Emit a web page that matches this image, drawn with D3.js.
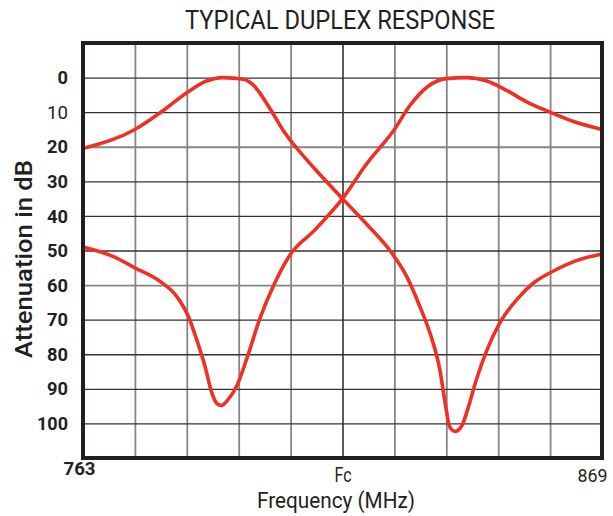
<!DOCTYPE html>
<html>
<head>
<meta charset="utf-8">
<script src="https://cdn.jsdelivr.net/npm/d3@7"></script>
<style>
  body { margin: 0; background: #fff; }
  svg { font-family: Roboto, "Liberation Sans", sans-serif; }
</style>
</head>
<body>
<svg id="chart" width="613" height="516"></svg>
<script>
// response curves (frequency in MHz, attenuation in dB)
var freqA = [763, 773.6, 779.4, 784.2, 788.2, 791.6, 795.8, 797.8, 801.2, 803.9, 805.4, 810.1, 816,
             821.0, 825.8, 829.1, 831.8, 833.9, 835.9, 837.1, 837.9, 839.0, 840.4, 841.7, 843.3,
             845.5, 848.1, 851.6, 855.0, 859.0, 863.2, 869];
var attA = [20.5, 15, 9.5, 4.4, 1.0, 0, 0.5, 2.2, 9, 15.3, 18.2, 26, 35,
            42.5, 50.2, 57.5, 66.2, 74, 84.6, 95.3, 101, 102.3, 100.6, 95.3, 87.5,
            78.8, 71, 64.2, 59.4, 56, 53.2, 51];

var freqB = [763, 769.1, 773.6, 778.7, 782.1, 784.5, 786.2, 787.9, 789.3, 790.3, 791.3, 792.7,
             794.4, 796.4, 799.1, 801.9, 805.4, 810.1, 816, 820.9, 826.6, 829.8, 833.5, 837.2,
             841.3, 845.5, 849.5, 853.6, 858.4, 863.2, 869];
var attB = [49, 51.7, 55, 58.9, 63.2, 69, 75.7, 83.4, 91.1, 94.2, 94.8, 93,
            89.2, 81.5, 69.8, 60.2, 51, 44.4, 35, 25, 15, 8, 2.5, 0.3,
            0, 1.0, 3.7, 7, 10, 12.7, 15];

var yTicks = [0, 10, 20, 30, 40, 50, 60, 70, 80, 90, 100];
var xTicks = [763, 816, 869];
var xTickLabels = ["763", "Fc", "869"];
var xDomain = [763, 869];
var yDomain = [-10, 110];
var xDivisions = 10;

var svg = d3.select("#chart");
var pLeft = 83, pRight = 602, pTop = 43, pBottom = 458;

var x = d3.scaleLinear().domain(xDomain).range([pLeft, pRight]);
var y = d3.scaleLinear().domain(yDomain).range([pTop, pBottom]);

// grid
var step = (xDomain[1] - xDomain[0]) / xDivisions;
var xGrid = d3.range(1, xDivisions).map(function (i) { return xDomain[0] + i * step; });

svg.append("g")
    .attr("transform", "translate(0," + pBottom + ")")
    .call(d3.axisBottom(x).tickValues(xGrid).tickSize(-(pBottom - pTop)).tickFormat(""))
    .call(function (g) { g.select(".domain").remove(); })
    .selectAll("line")
    .attr("stroke", function (d) { return Math.abs(d - 816) < 0.01 ? "#333" : "#858585"; })
    .attr("stroke-width", function (d) { return Math.abs(d - 816) < 0.01 ? 1.6 : 1.8; });

svg.append("g")
    .attr("transform", "translate(" + pLeft + ",0)")
    .call(d3.axisRight(y).tickValues(yTicks).tickSize(pRight - pLeft).tickFormat(""))
    .call(function (g) { g.select(".domain").remove(); })
    .selectAll("line")
    .attr("stroke", function (d) { return (d == 20 || d == 60) ? "#858585" : "#333"; })
    .attr("stroke-width", function (d) { return (d == 20 || d == 60) ? 1.8 : 1.3; });

// curves
var line = d3.line()
    .x(function (d) { return x(d[0]); })
    .y(function (d) { return y(d[1]); })
    .curve(d3.curveMonotoneX);

[d3.zip(freqA, attA), d3.zip(freqB, attB)].forEach(function (pts) {
    svg.append("path")
        .datum(pts)
        .attr("d", line)
        .attr("fill", "none")
        .attr("stroke", "#ee3124")
        .attr("stroke-width", 3.6)
        .attr("stroke-linejoin", "round");
});

// frame
svg.append("rect")
    .attr("x", pLeft).attr("y", pTop)
    .attr("width", pRight - pLeft).attr("height", pBottom - pTop)
    .attr("fill", "none")
    .attr("stroke", "#231f20")
    .attr("stroke-width", 4);

// y tick labels
var yAxis = svg.append("g")
    .attr("transform", "translate(" + pLeft + ",0)")
    .call(d3.axisLeft(y).tickValues(yTicks).tickSize(0).tickPadding(15));
yAxis.select(".domain").remove();
yAxis.selectAll("text")
    .attr("font-family", "Roboto, sans-serif")
    .attr("font-size", 19)
    .attr("font-weight", function (d) { return d == 10 ? 400 : 700; })
    .attr("fill", "#231f20")
    .attr("textLength", function (d) { return d >= 100 ? 31 : (d >= 10 ? 21 : 10.5); })
    .attr("lengthAdjust", "spacingAndGlyphs");

// x tick labels
var xAxis = svg.append("g")
    .attr("transform", "translate(0," + pBottom + ")")
    .call(d3.axisBottom(x).tickValues(xTicks).tickSize(0)
        .tickFormat(function (d, i) { return xTickLabels[i]; }));
xAxis.select(".domain").remove();
xAxis.selectAll("text")
    .attr("font-family", "Roboto, sans-serif")
    .attr("font-size", function (d, i) { return i == 0 ? 19 : (i == 1 ? 21 : 19); })
    .attr("font-weight", function (d, i) { return i == 0 ? 700 : 400; })
    .attr("fill", "#231f20")
    .attr("dy", null)
    .attr("y", function (d, i) { return i == 0 ? 17 : 24; })
    .attr("dx", function (d, i) { return i == 0 ? -4 : (i == 2 ? -10 : 0); })
    .attr("textLength", function (d, i) { return i == 0 ? 32 : (i == 1 ? 17 : 30); })
    .attr("lengthAdjust", "spacingAndGlyphs");

// titles
svg.append("text")
    .attr("x", 340).attr("y", 29)
    .attr("text-anchor", "middle")
    .attr("font-size", 25)
    .attr("textLength", 310)
    .attr("lengthAdjust", "spacingAndGlyphs")
    .attr("fill", "#231f20")
    .text("TYPICAL DUPLEX RESPONSE");

svg.append("text")
    .attr("x", 336).attr("y", 508)
    .attr("text-anchor", "middle")
    .attr("font-size", 22)
    .attr("textLength", 158)
    .attr("lengthAdjust", "spacingAndGlyphs")
    .attr("fill", "#231f20")
    .text("Frequency (MHz)");

svg.append("text")
    .attr("transform", "translate(32,259) rotate(-90)")
    .attr("text-anchor", "middle")
    .attr("font-size", 24)
    .attr("font-weight", 500)
    .attr("textLength", 198)
    .attr("lengthAdjust", "spacingAndGlyphs")
    .attr("fill", "#231f20")
    .text("Attenuation in dB");
</script>
</body>
</html>
